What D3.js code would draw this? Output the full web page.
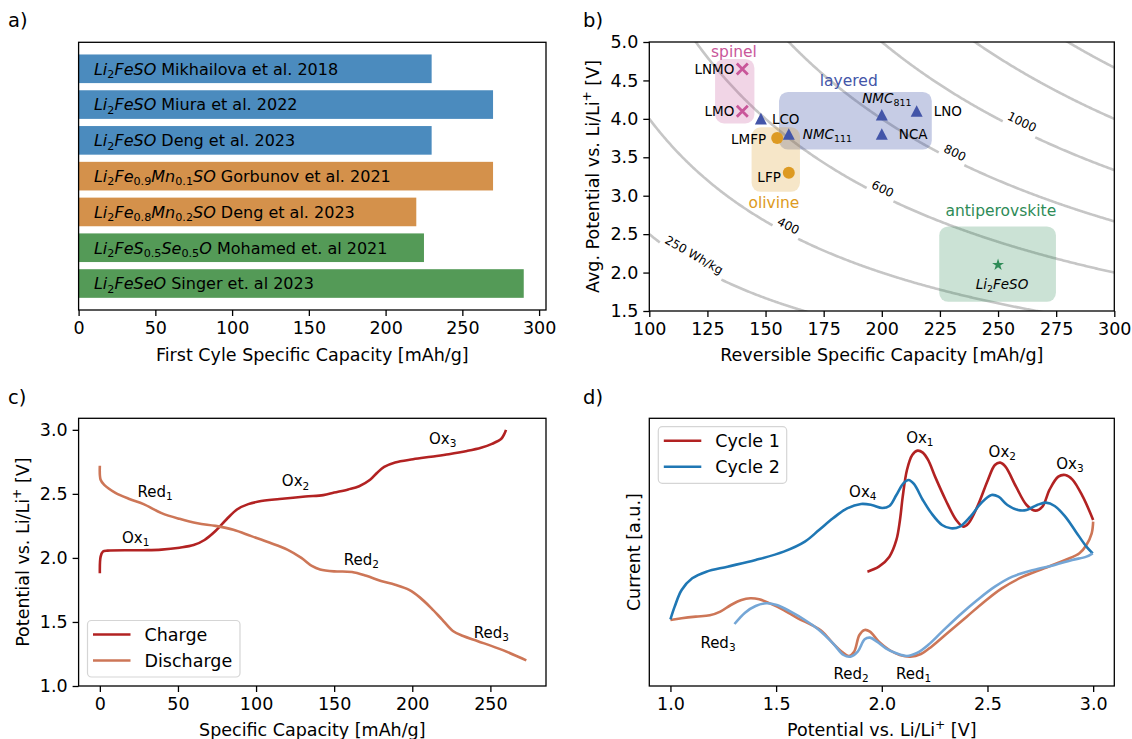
<!DOCTYPE html>
<html>
<head>
<meta charset="utf-8">
<script src="https://cdn.jsdelivr.net/npm/d3@7"></script>
<style>
  body { margin: 0; background: #fff; }
  text { font-family: "DejaVu Sans", sans-serif; }
</style>
</head>
<body>
<div id="container"></div>
<script>
// ---- data ----------------------------------------------------------

// a) first cycle capacity of the antiperovskites
const barLabels = [
  "$Li_{2}FeSO$ Mikhailova et al. 2018",
  "$Li_{2}FeSO$ Miura et al. 2022",
  "$Li_{2}FeSO$ Deng et al. 2023",
  "$Li_{2}Fe_{0.9}Mn_{0.1}SO$ Gorbunov et al. 2021",
  "$Li_{2}Fe_{0.8}Mn_{0.2}SO$ Deng et al. 2023",
  "$Li_{2}FeS_{0.5}Se_{0.5}O$ Mohamed et. al 2021",
  "$Li_{2}FeSeO$ Singer et. al 2023"
];
const barValues = [230, 270, 230, 270, 220, 225, 290];
const barFamily = ["S", "S", "S", "Mn", "Mn", "Se", "Se"];
const barTicks = [0, 50, 100, 150, 200, 250, 300];

// b) cathode materials
const materials = ["LNMO", "LMO", "LCO", "$NMC_{111}$", "LMFP", "LFP", "$NMC_{811}$", "NCA", "LNO", "$Li_{2}FeSO$"];
const matCapacity = [140, 140, 148, 160, 155, 160, 200, 200, 215, 250];
const matVoltage = [4.65, 4.1, 4.0, 3.8, 3.75, 3.3, 4.05, 3.8, 4.1, 2.1];
const matClass = [0, 0, 1, 1, 2, 2, 1, 1, 1, 3];
const classNames = ["spinel", "layered", "olivine", "antiperovskite"];
// box extents: [capMin, capMax, voltMin, voltMax]
const classBoxes = [[128.3, 145.2, 3.94, 4.78], [155.8, 221.5, 3.6, 4.35], [144, 164.8, 3.05, 3.89], [224.7, 274.9, 1.62, 2.6]];
const classLabelAt = [[136.4, 4.87], [185.8, 4.5], [153.6, 2.91], [251.2, 2.8]];
const energyLevels = [250, 400, 600, 800, 1000, 1200, 1400];
const contourLabels = [
  { level: 250, text: "250 Wh/kg", cap: 119.3, volt: 2.23 },
  { level: 400, text: "400", cap: 159.8, volt: 2.61 },
  { level: 600, text: "600", cap: 200.4, volt: 3.09 },
  { level: 800, text: "800", cap: 231.5, volt: 3.56 },
  { level: 1000, text: "1000", cap: 260.3, volt: 3.96 }
];
const capTicksB = [100, 125, 150, 175, 200, 225, 250, 275, 300];
const voltTicksB = [1.5, 2.0, 2.5, 3.0, 3.5, 4.0, 4.5, 5.0];

// c) galvanostatic profile [capacity mAh/g, potential V]
const charge = [[0,1.88],[0.5,2.01],[2,2.05],[5,2.057],[28,2.06],[39.5,2.065],[51,2.08],[60,2.10],[67,2.14],[74,2.21],[81,2.30],[88,2.38],[95,2.42],[101.6,2.44],[115,2.46],[131.5,2.48],[143,2.49],[150,2.51],[159,2.535],[166,2.56],[173,2.61],[177.5,2.665],[182,2.71],[189,2.745],[200.5,2.77],[212,2.79],[223.4,2.81],[235,2.835],[244,2.86],[251,2.89],[257,2.93],[259,2.97],[260,3.0]];
const discharge = [[0,2.72],[0.5,2.61],[2.8,2.57],[9.7,2.51],[18.9,2.46],[28,2.42],[39.5,2.35],[51,2.305],[62.5,2.27],[74,2.25],[85.5,2.22],[97,2.17],[108.5,2.12],[120,2.065],[129,2.0],[136,1.935],[141,1.91],[150,1.895],[161.4,1.89],[170.6,1.86],[180,1.82],[189,1.79],[198,1.75],[205,1.69],[212,1.61],[219,1.52],[226,1.43],[232.6,1.39],[242,1.35],[258,1.28],[273,1.20]];
const capTicksC = [0, 50, 100, 150, 200, 250];
const voltTicksC = [1.0, 1.5, 2.0, 2.5, 3.0];
const peaksC = [["Red_{1}", 24.1, 2.52], ["Ox_{1}", 14.2, 2.16], ["Ox_{2}", 116.5, 2.6], ["Ox_{3}", 210.7, 2.93], ["Red_{2}", 156.2, 1.99], ["Red_{3}", 239.4, 1.42]];

// d) cyclic voltammetry [potential V, current a.u.]
const cycle1Ox = [[1.932,0.25],[1.986,0.40],[2.036,0.70],[2.069,1.20],[2.086,1.80],[2.099,2.50],[2.119,3.30],[2.144,3.75],[2.169,3.88],[2.194,3.82],[2.219,3.60],[2.252,3.10],[2.302,2.40],[2.352,1.80],[2.385,1.60],[2.41,1.70],[2.452,2.20],[2.502,3.00],[2.535,3.45],[2.56,3.52],[2.585,3.40],[2.635,2.80],[2.685,2.25],[2.727,2.08],[2.76,2.20],[2.793,2.70],[2.835,3.10],[2.868,3.15],[2.901,3.02],[2.951,2.50],[3.0,1.80]];
const cycle1Red = [[3.0,1.75],[2.993,1.40],[2.968,1.05],[2.935,0.80],[2.868,0.60],[2.768,0.35],[2.668,0.10],[2.568,-0.25],[2.485,-0.65],[2.402,-1.10],[2.318,-1.55],[2.235,-2.00],[2.185,-2.22],[2.135,-2.30],[2.085,-2.25],[2.036,-2.10],[1.986,-1.85],[1.944,-1.55],[1.919,-1.50],[1.894,-1.65],[1.869,-2.15],[1.844,-2.28],[1.811,-2.15],[1.769,-1.90],[1.719,-1.55],[1.669,-1.35],[1.603,-1.15],[1.536,-0.90],[1.47,-0.70],[1.42,-0.58],[1.378,-0.55],[1.336,-0.60],[1.286,-0.75],[1.236,-0.95],[1.186,-1.06],[1.12,-1.10],[1.053,-1.15],[1.0,-1.20]];
const cycle2Ox = [[1.0,-1.18],[1.02,-0.80],[1.053,-0.30],[1.103,0.05],[1.17,0.25],[1.27,0.40],[1.403,0.60],[1.536,0.85],[1.636,1.15],[1.703,1.50],[1.769,1.85],[1.836,2.15],[1.902,2.28],[1.952,2.25],[2.002,2.16],[2.036,2.22],[2.069,2.55],[2.102,2.90],[2.127,3.00],[2.152,2.88],[2.194,2.40],[2.235,2.00],[2.285,1.65],[2.327,1.55],[2.369,1.60],[2.419,1.90],[2.469,2.30],[2.519,2.55],[2.552,2.50],[2.594,2.25],[2.644,2.10],[2.685,2.10],[2.735,2.25],[2.776,2.32],[2.818,2.22],[2.868,1.90],[2.918,1.45],[2.968,1.00],[2.998,0.80]];
const cycle2Red = [[2.998,0.80],[2.968,0.70],[2.901,0.60],[2.818,0.45],[2.718,0.30],[2.618,0.10],[2.535,-0.20],[2.452,-0.60],[2.369,-1.05],[2.285,-1.55],[2.219,-1.95],[2.169,-2.18],[2.119,-2.28],[2.069,-2.20],[2.019,-2.05],[1.977,-1.85],[1.944,-1.73],[1.919,-1.78],[1.886,-2.15],[1.852,-2.30],[1.819,-2.25],[1.769,-1.90],[1.703,-1.50],[1.636,-1.20],[1.569,-0.95],[1.503,-0.75],[1.453,-0.70],[1.403,-0.78],[1.353,-0.98],[1.303,-1.32]];
const voltTicksD = [1.0, 1.5, 2.0, 2.5, 3.0];
const peaksD = [["Ox_{1}", 2.18, 4.28], ["Ox_{2}", 2.57, 3.85], ["Ox_{3}", 2.89, 3.5], ["Ox_{4}", 1.91, 2.65], ["Red_{3}", 1.225, -1.88], ["Red_{2}", 1.855, -2.8], ["Red_{1}", 2.15, -2.8]];

// ---- styles --------------------------------------------------------
const FS = 17.5;
const familyColors = { S: "#4b8bbe", Mn: "#d4914b", Se: "#549a57" };
const classColors = ["#c9579a", "#4355a8", "#dd9a22", "#2e8b57"];
const chargeColor = "#b22222", dischargeColor = "#cd7657";
const cycle2Color = "#1f77b4", cycle2RedColor = "#74a6d6";

const svg = d3.select("#container").append("svg")
  .attr("width", 1132).attr("height", 739);

// small mathtext: $..$ italic, _{..} subscript, ^{..} superscript
function rich(sel, str, fs) {
  const parts = str.split(/(\$[^$]*\$)/).filter(s => s.length);
  let shift = 0;
  parts.forEach(p => {
    const math = p.startsWith("$");
    const body = math ? p.slice(1, -1) : p;
    const re = /_\{([^}]*)\}|\^\{([^}]*)\}|([^_^]+)/g;
    let m;
    while ((m = re.exec(body))) {
      let t, target = 0, size = fs, italic = false;
      if (m[1] != null) { t = m[1]; target = 0.22 * fs; size = 0.7 * fs; }
      else if (m[2] != null) { t = m[2]; target = -0.42 * fs; size = 0.7 * fs; }
      else { t = m[3]; italic = math; }
      sel.append("tspan").attr("dy", target - shift).attr("font-size", size)
        .attr("font-style", italic ? "italic" : null).text(t);
      shift = target;
    }
  });
}

function addText(x, y, str, o = {}) {
  const size = o.size || FS;
  const t = svg.append("text").attr("x", x).attr("y", y)
    .attr("font-size", size).attr("text-anchor", o.anchor || "start")
    .attr("fill", o.fill || "black").style("white-space", "pre");
  if (o.family) t.attr("font-family", o.family);
  if (o.rotate != null) t.attr("transform", `rotate(${o.rotate},${x},${y})`);
  rich(t, str, size);
  return t;
}

function frame(x0, y0, x1, y1) {
  svg.append("rect").attr("x", x0).attr("y", y0)
    .attr("width", x1 - x0).attr("height", y1 - y0)
    .attr("fill", "none").attr("stroke", "black").attr("stroke-width", 1.3);
}

function tidy(g) {
  g.attr("font-size", FS).attr("font-family", "DejaVu Sans");
  g.select(".domain").remove();
  g.selectAll(".tick line").attr("stroke-width", 1.3);
}

function xAxis(scale, y, ticks, fmt) {
  const g = svg.append("g").attr("transform", `translate(0,${y})`)
    .call(d3.axisBottom(scale).tickValues(ticks).tickFormat(fmt).tickSize(6).tickPadding(6));
  tidy(g);
}

function yAxis(scale, x, ticks, fmt) {
  const g = svg.append("g").attr("transform", `translate(${x},0)`)
    .call(d3.axisLeft(scale).tickValues(ticks).tickFormat(fmt).tickSize(6).tickPadding(5));
  tidy(g);
}

function legend(x, y, w, h, items) {
  svg.append("rect").attr("x", x).attr("y", y).attr("width", w).attr("height", h)
    .attr("rx", 4).attr("fill", "white").attr("fill-opacity", 0.8)
    .attr("stroke", "#d5d5d5").attr("stroke-width", 1.2);
  items.forEach(([name, color], i) => {
    const ly = y + 14 + i * 26;
    svg.append("line").attr("x1", x + 5.5).attr("x2", x + 43).attr("y1", ly).attr("y2", ly)
      .attr("stroke", color).attr("stroke-width", 2.6);
    addText(x + 57, ly + 6.3, name);
  });
}

// ---- a) -------------------------------------------------------------
const pa = { l: 78.6, r: 546, t: 42.3, b: 310 };
const xA = d3.scaleLinear().domain([0, 304.5]).range([pa.l, pa.r]);
const yA = d3.scaleBand().domain(d3.range(barValues.length))
  .range([pa.t, pa.b]).paddingInner(0.2).paddingOuter(0.34);

svg.append("g").selectAll("rect").data(barValues).join("rect")
  .attr("x", xA(0)).attr("y", (d, i) => yA(i))
  .attr("width", d => xA(d) - xA(0)).attr("height", yA.bandwidth())
  .attr("fill", (d, i) => familyColors[barFamily[i]]);
barLabels.forEach((s, i) => addText(xA(10), yA(i) + yA.bandwidth() / 2 + 5.8, s, { size: 16 }));
frame(pa.l, pa.t, pa.r, pa.b);
xAxis(xA, pa.b, barTicks, d3.format("d"));
addText((pa.l + pa.r) / 2, 361, "First Cyle Specific Capacity [mAh/g]", { anchor: "middle" });

// ---- b) -------------------------------------------------------------
const pb = { l: 649.3, r: 1114.3, t: 42, b: 311 };
const xB = d3.scaleLinear().domain([100, 300]).range([pb.l, pb.r]);
const yB = d3.scaleLinear().domain([1.5, 5.0]).range([pb.b, pb.t]);

svg.append("clipPath").attr("id", "clipB").append("rect")
  .attr("x", pb.l).attr("y", pb.t).attr("width", pb.r - pb.l).attr("height", pb.b - pb.t);

const contourG = svg.append("g").attr("clip-path", "url(#clipB)");
const contourText = svg.append("g");
const capGrid = d3.range(100, 300.01, 0.5);
energyLevels.forEach(E => {
  const lab = contourLabels.find(l => l.level === E);
  let lx = 0, ly = 0, r = 0;
  if (lab) {
    lx = xB(lab.cap); ly = yB(lab.volt);
    const ang = Math.atan2(yB(E / (lab.cap + 1)) - yB(E / lab.cap), xB(lab.cap + 1) - xB(lab.cap)) * 180 / Math.PI;
    const t = contourText.append("text").attr("x", lx).attr("y", ly + 4.3)
      .attr("font-size", 12).attr("text-anchor", "middle")
      .attr("transform", `rotate(${ang},${lx},${ly})`).text(lab.text);
    r = t.node().getComputedTextLength() / 2 + 4;
  }
  const line = d3.line().x(d => xB(d[0])).y(d => yB(d[1]))
    .defined(d => !lab || Math.hypot(xB(d[0]) - lx, yB(d[1]) - ly) > r);
  contourG.append("path").attr("d", line(capGrid.map(c => [c, E / c])))
    .attr("fill", "none").attr("stroke", "#c6c6c6").attr("stroke-width", 2.6);
});

classBoxes.forEach((bx, k) => {
  svg.append("rect").attr("x", xB(bx[0])).attr("y", yB(bx[3]))
    .attr("width", xB(bx[1]) - xB(bx[0])).attr("height", yB(bx[2]) - yB(bx[3]))
    .attr("rx", 9).attr("fill", classColors[k]).attr("fill-opacity", k === 1 ? 0.3 : 0.25);
  addText(xB(classLabelAt[k][0]), yB(classLabelAt[k][1]) + 5.4, classNames[k],
    { anchor: "middle", size: 15.5, family: "Open Sans", fill: classColors[k] });
});

const markG = svg.append("g");
materials.forEach((m, i) => {
  const x = xB(matCapacity[i]), y = yB(matVoltage[i]);
  const c = classColors[matClass[i]];
  const g = markG.append("g").attr("transform", `translate(${x},${y})`);
  if (matClass[i] === 0) {
    g.append("path").attr("d", "M-5.5,-5.5L5.5,5.5M-5.5,5.5L5.5,-5.5")
      .attr("stroke", c).attr("stroke-width", 2.8);
  } else if (matClass[i] === 1) {
    g.append("path").attr("d", "M0,-6L6,5.6L-6,5.6Z").attr("fill", c);
  } else if (matClass[i] === 2) {
    g.append("circle").attr("r", 6).attr("fill", c);
  } else {
    g.append("path").attr("d", d3.symbol(d3.symbolStar, 44)()).attr("fill", c);
  }
});

// label placement next to each marker (pixel offsets)
const matLabelAnchor = ["end", "end", "start", "start", "end", "end", "middle", "start", "start", "middle"];
const matLabelDx = [-8, -8, 11, 14, -11, -8, 5, 17, 17, 4];
const matLabelDy = [0, 0, 0, 0, 1.5, 4.4, -17, 0, 0, 19];
materials.forEach((m, i) => {
  addText(xB(matCapacity[i]) + matLabelDx[i], yB(matVoltage[i]) + matLabelDy[i] + 4.9, m,
    { anchor: matLabelAnchor[i], size: 13.5 });
});

frame(pb.l, pb.t, pb.r, pb.b);
xAxis(xB, pb.b, capTicksB, d3.format("d"));
yAxis(yB, pb.l, voltTicksB, d3.format(".1f"));
addText((pb.l + pb.r) / 2, 361, "Reversible Specific Capacity [mAh/g]", { anchor: "middle" });
addText(598.5, (pb.t + pb.b) / 2, "Avg. Potential vs. Li/Li$^{+}$ [V]", { anchor: "middle", rotate: -90 });

// ---- c) -------------------------------------------------------------
const pc = { l: 78.6, r: 546, t: 418.3, b: 686 };
const xC = d3.scaleLinear().domain([-13.6, 285.6]).range([pc.l, pc.r]);
const yC = d3.scaleLinear().domain([1.0, 3.09]).range([pc.b, pc.t]);
const lineC = d3.line().x(d => xC(d[0])).y(d => yC(d[1])).curve(d3.curveCatmullRom);

svg.append("path").attr("d", lineC(charge)).attr("fill", "none")
  .attr("stroke", chargeColor).attr("stroke-width", 2.6);
svg.append("path").attr("d", lineC(discharge)).attr("fill", "none")
  .attr("stroke", dischargeColor).attr("stroke-width", 2.6);
peaksC.forEach(([s, x, y]) => addText(xC(x), yC(y) + 5.4, s, { size: 15, family: "Open Sans" }));

frame(pc.l, pc.t, pc.r, pc.b);
xAxis(xC, pc.b, capTicksC, d3.format("d"));
yAxis(yC, pc.l, voltTicksC, d3.format(".1f"));
legend(87.5, 620.5, 152.5, 56.5, [["Charge", chargeColor], ["Discharge", dischargeColor]]);
addText((pc.l + pc.r) / 2, 736, "Specific Capacity [mAh/g]", { anchor: "middle" });
addText(28.7, (pc.t + pc.b) / 2, "Potential vs. Li/Li$^{+}$ [V]", { anchor: "middle", rotate: -90 });

// ---- d) -------------------------------------------------------------
const pd = { l: 649.3, r: 1114.3, t: 418.3, b: 686 };
const xD = d3.scaleLinear().domain([0.9, 3.1]).range([pd.l, pd.r]);
const yD = d3.scaleLinear().domain([-3.18, 4.85]).range([pd.b, pd.t]);
const lineD = d3.line().x(d => xD(d[0])).y(d => yD(d[1])).curve(d3.curveCatmullRom);

[[cycle1Ox, chargeColor], [cycle1Red, dischargeColor], [cycle2Ox, cycle2Color], [cycle2Red, cycle2RedColor]]
  .forEach(([data, color]) => {
    svg.append("path").attr("d", lineD(data)).attr("fill", "none")
      .attr("stroke", color).attr("stroke-width", 2.6);
  });
peaksD.forEach(([s, x, y]) => addText(xD(x), yD(y) + 5.4, s, { size: 15, family: "Open Sans", anchor: "middle" }));

frame(pd.l, pd.t, pd.r, pd.b);
xAxis(xD, pd.b, voltTicksD, d3.format(".1f"));
legend(658.3, 426.7, 128.4, 56.6, [["Cycle 1", chargeColor], ["Cycle 2", cycle2Color]]);
addText((pd.l + pd.r) / 2, 736, "Potential vs. Li/Li$^{+}$ [V]", { anchor: "middle" });
addText(640.2, (pd.t + pd.b) / 2, "Current [a.u.]", { anchor: "middle", rotate: -90 });

// ---- panel letters --------------------------------------------------
[["a)", 8, 27], ["b)", 583, 27], ["c)", 8, 404], ["d)", 583, 404]]
  .forEach(([s, x, y]) => addText(x, y, s, { size: 19.5 }));
</script>
</body>
</html>
